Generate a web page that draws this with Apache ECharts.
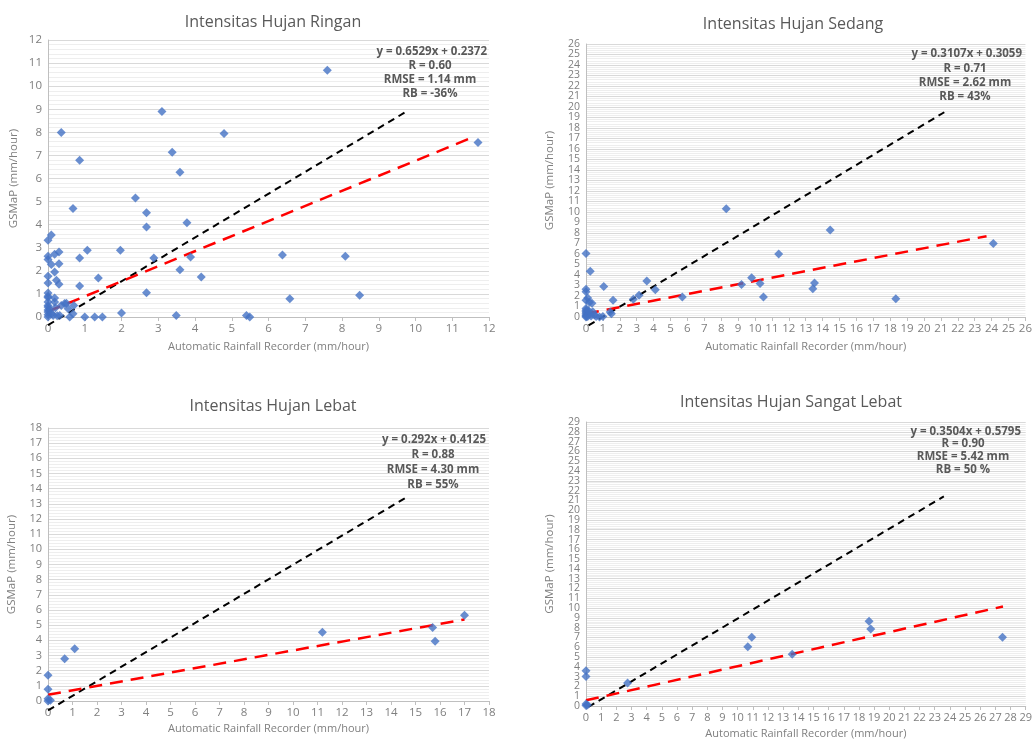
<!DOCTYPE html>
<html><head><meta charset="utf-8">
<script src="https://cdn.jsdelivr.net/npm/echarts@6/dist/echarts.min.js"></script>
<style>html,body{margin:0;padding:0;background:#fff}#c{width:1035px;height:740px}</style>
</head><body><div id="c"></div>
<script>
// ---------- DATA ----------
const titles = ["Intensitas Hujan Ringan","Intensitas Hujan Sedang","Intensitas Hujan Lebat","Intensitas Hujan Sangat Lebat"];
const xTitle = "Automatic Rainfall Recorder (mm/hour)";
const yTitle = "GSMaP (mm/hour)";
const axisMax = [12, 26, 18, 29];
const statsRingan = ["y = 0.6529x + 0.2372","R = 0.60","RMSE = 1.14 mm","RB = -36%"];
const statsSedang = ["y = 0.3107x + 0.3059","R = 0.71","RMSE = 2.62 mm","RB = 43%"];
const statsLebat = ["y = 0.292x + 0.4125","R = 0.88","RMSE = 4.30 mm","RB = 55%"];
const statsSangat = ["y = 0.3504x + 0.5795","R = 0.90","RMSE = 5.42 mm","RB = 50 %"];

const ptsRingan = [
 [0.36,7.99],[0.86,6.79],[0.68,4.7],[0.09,3.55],[0,3.32],[0,2.63],[0,2.49],[0.3,2.82],[0.18,2.72],
 [0.3,2.31],[0.09,2.27],[0.86,2.56],[1.07,2.89],[0,1.76],[0,1.47],[0.18,1.95],[0.23,1.59],[0.3,1.42],
 [0.86,1.34],[1.37,1.69],[0,1.04],[0,0.9],[0,0.84],[0,0.65],[0,0.5],[0,0.43],[0,0.3],[0,0.22],[0,0.1],[0,0],
 [0.18,0.82],[0.18,0.65],[0.36,0.5],[0.45,0.58],[0.55,0.36],[0.68,0.14],[0.7,0.5],[0.59,0],[1.0,0],
 [1.27,0],[1.48,0],[0.32,0.07],[0.14,0.07],[0.05,0.3],[0.1,0.15],[0.25,0.05],[0.5,0.6],[0.2,0.4],
 [2.0,0.17],[1.97,2.89],[2.38,5.16],[2.68,4.52],[2.68,3.9],[2.68,1.05],[2.88,2.56],[3.1,8.9],[3.38,7.14],
 [3.59,6.27],[3.59,2.05],[3.49,0.07],[3.78,4.08],[3.88,2.6],[4.17,1.73],[4.79,7.95],[5.4,0.07],[5.49,0],
 [7.6,10.69],[11.7,7.56],[6.38,2.69],[8.09,2.63],[6.58,0.79],[8.48,0.94]
];
const fitRingan = [[0,0.24],[11.5,7.75]];
const refRingan = [[0,-0.35],[9.7,8.85]];

const ptsSedang = [
 [0,6.05],[0.25,4.36],[0,2.65],[0,2.4],[0,1.6],[0.1,1.8],[0.35,1.3],[0.2,1.4],[1.05,2.9],[1.6,1.6],
 [1.43,0.48],[1.5,0.3],[2.8,1.7],[3.14,2.07],[3.6,3.44],[4.1,2.6],[5.7,1.9],[8.3,10.3],[9.2,3.1],
 [9.8,3.75],[10.3,3.2],[10.5,1.9],[11.4,6.0],[14.45,8.28],[13.52,3.25],[13.42,2.7],[18.33,1.75],[24.1,7.0],
 [0,0],[0,0.1],[0,0.2],[0,0.35],[0,0.5],[0,0.65],[0,0.8],[0.1,0.05],[0.2,0.3],[0.3,0.1],[0.4,0.5],
 [0.5,0.2],[0.6,0.05],[0.8,0],[1.0,0.05],[0.15,0.6]
];
const fitSedang = [[0,0.31],[23.7,7.7]];
const refSedang = [[0.15,-0.8],[21.2,19.5]];

const ptsLebat = [[0,1.7],[0,0.77],[0,0.15],[0,0],[0.1,0.05],[0.68,2.78],[1.09,3.44],[11.2,4.54],[15.7,4.85],[15.8,3.94],[17.0,5.66]];
const fitLebat = [[0,0.41],[17,5.38]];
const refLebat = [[0,-0.62],[14.6,13.4]];

const ptsSangat = [[0,3.6],[0,3.0],[0,0.05],[0,0.2],[0.1,0.1],[2.74,2.36],[10.67,6.06],[10.93,7.03],[13.6,5.28],[18.67,8.65],[18.78,7.87],[27.47,7.03]];
const fitSangat = [[0,0.58],[27.5,10.16]];
const refSangat = [[0.15,-0.1],[23.6,21.4]];

// ---------- CHART ----------
const grids = [
 {left:48, top:40, width:441, height:277},
 {left:586, top:44, width:441, height:273},
 {left:48, top:428, width:441, height:273},
 {left:586, top:422, width:441, height:287}
];
const titlePos = [[268,9],[788,11],[268,393],[786,389]];
const statsPos = [{right:487, cx:430, y:[52,66,80,94]},{right:1022, cx:965, y:[54,69,83,97]},
                  {right:486, cx:433, y:[440,455,470,485]},{right:1021, cx:963, y:[432,444,457,470]}];
const allStats = [statsRingan, statsSedang, statsLebat, statsSangat];
const allPts = [ptsRingan, ptsSedang, ptsLebat, ptsSangat];
const allFit = [fitRingan, fitSedang, fitLebat, fitSangat];
const allRef = [refRingan, refSedang, refLebat, refSangat];
const yLabelSize = [11.5, 10.5, 11, 10.5];
const dense = [false, true, false, true];
const xLabelSize = [11.5, 11.5, 11.5, 11];

const gray = '#7f7f7f', dark = '#595959';
const font = 'Open Sans';

const xAxes = [], yAxes = [], series = [], title = [], graphic = [];
const extraY = [];
for (let i=0;i<4;i++){
  xAxes.push({gridIndex:i, type:'value', min:0, max:axisMax[i], interval:1,
    name:xTitle, nameLocation:'middle', nameGap:i<2?24:22,
    nameTextStyle:{color:gray, fontSize:11, fontFamily:font},
    axisLine:{show:true, lineStyle:{color:'#bfbfbf'}},
    axisTick:{show:true, lineStyle:{color:'#bfbfbf'}, length:4},
    axisLabel:{color:gray, fontSize:xLabelSize[i], fontFamily:font, margin:6, showMinLabel:true, showMaxLabel:true, interval:0},
    splitLine:{show:false}});
  yAxes.push({gridIndex:i, type:'value', min:0, max:axisMax[i], interval:1,
    name:yTitle, nameLocation:'middle', nameGap:i===0?28:30,
    nameTextStyle:{color:gray, fontSize:11.5, fontFamily:font},
    axisLine:{show:true, lineStyle:{color:'#bfbfbf'}},
    axisTick:{show:false},
    axisLabel:{color:gray, fontSize:yLabelSize[i], fontFamily:font, margin:6,
      showMinLabel: dense[i] ? false : true, showMaxLabel: dense[i] ? false : true},
    splitLine:{show:true, lineStyle:{color:'#d9d9d9', width:1}},
    minorTick:{show:false, splitNumber:5},
    minorSplitLine:{show:true, lineStyle:{color:'#eeeeee', width:1}}});
  if (dense[i]) {
    const mx = axisMax[i];
    extraY.push({gridIndex:i, type:'value', min:0, max:mx, interval:1, position:'left',
      axisLine:{show:false}, axisTick:{show:false}, splitLine:{show:false},
      axisLabel:{color:gray, fontSize:yLabelSize[i], fontFamily:font, margin:6, showMinLabel:true, showMaxLabel:true,
        formatter:(v)=> (v===0 || v===mx) ? String(v) : ''}});
  }
  series.push({type:'scatter', xAxisIndex:i, yAxisIndex:i, data:allPts[i], symbol:'diamond', symbolSize:9,
    itemStyle:{color:'#4472C4'}, z:3, clip:false});
  series.push({type:'line', xAxisIndex:i, yAxisIndex:i, data:allRef[i], symbol:'none', clip:false,
    lineStyle:{color:'#000', width:2, type:[7,5]}, z:2, silent:true});
  series.push({type:'line', xAxisIndex:i, yAxisIndex:i, data:allFit[i], symbol:'none', clip:false,
    lineStyle:{color:'#ff0000', width:2.5, type:[13,8]}, z:2, silent:true});
  title.push({text:titles[i], left:titlePos[i][0], top:titlePos[i][1], textAlign:'center',
    textStyle:{color:dark, fontSize:16, fontWeight:'normal', fontFamily:font}});
  const s = statsPos[i];
  allStats[i].forEach((t,k)=>{
    graphic.push({type:'text', z:10,
      x: k===0 ? s.right : s.cx, y: s.y[k],
      style:{text:t, fill:dark, font:'bold 11.5px "'+font+'"', textAlign: k===0?'right':'center', textVerticalAlign:'middle'}});
  });
}

const chart = echarts.init(document.getElementById('c'));
chart.setOption({animation:false, backgroundColor:'#fff', title, grid:grids, xAxis:xAxes, yAxis:yAxes.concat(extraY), series, graphic});
</script></body></html>
